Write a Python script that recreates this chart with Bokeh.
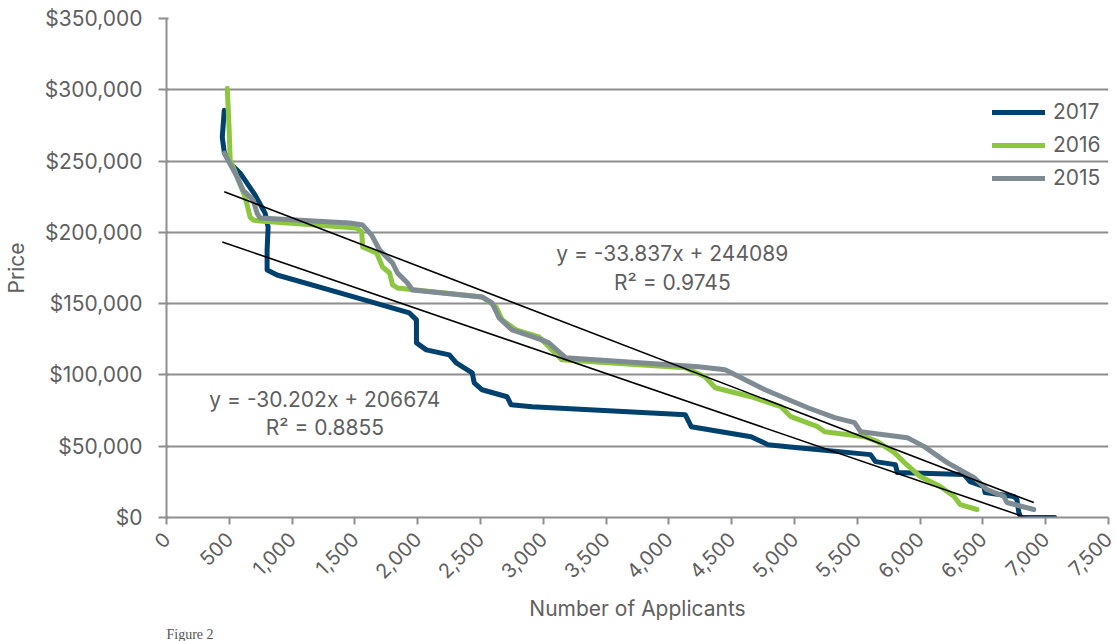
from bokeh.plotting import figure
from bokeh.embed import file_html
from bokeh.resources import INLINE
from bokeh.models import (Legend, LegendItem, Label, FixedTicker,
                          NumeralTickFormatter, Title)
from math import pi

# ---------------- data ----------------
x_2017 = [460, 444, 460, 507, 587, 706, 785, 809, 801, 801, 880, 1380, 1934,
          1990, 1990, 2069, 2252, 2307, 2434, 2450, 2513, 2711, 2743, 2910,
          4130, 4178, 4654, 4789, 5026, 5605, 5645, 5803, 5819, 6350, 6398,
          6509, 6517, 6747, 6771, 6786, 6802, 7072]
y_2017 = [285600, 266700, 256200, 248500, 241500, 226100, 213500, 203700,
          187600, 173600, 170100, 157500, 143500, 138600, 122500, 117600,
          114100, 108500, 101500, 94500, 89600, 84700, 79100, 77700, 72100,
          63700, 56700, 51100, 49000, 44100, 39200, 37100, 31500, 30100,
          25200, 21700, 17500, 14700, 12600, 3500, 0, 0]

x_2016 = [484, 499, 507, 531, 626, 666, 690, 745, 1514, 1554, 1562, 1673,
          1720, 1776, 1800, 1839, 2513, 2624, 2672, 2783, 2965, 3068, 3147,
          4130, 4289, 4368, 4654, 4892, 4971, 5185, 5240, 5558, 5661, 5795,
          5875, 6002, 6160, 6271, 6319, 6453]
y_2016 = [301000, 271600, 250600, 245700, 224700, 210700, 208600, 207900,
          203000, 200200, 189700, 185500, 175700, 171500, 163100, 161000,
          154700, 147700, 138600, 131600, 126700, 117600, 110600, 105000,
          98700, 91000, 84700, 77700, 70700, 63700, 60200, 56700, 53200,
          45500, 38500, 28700, 21700, 14700, 9100, 5600]

x_2015 = [460, 563, 610, 690, 721, 745, 1459, 1562, 1633, 1697, 1800, 1839,
          1919, 1958, 2513, 2592, 2648, 2751, 2989, 3044, 3179, 4234, 4448,
          4654, 4765, 5106, 5320, 5478, 5526, 5898, 6033, 6216, 6430, 6533,
          6668, 6691, 6905]
y_2015 = [255500, 238700, 229600, 222600, 213500, 210000, 206500, 205100,
          198100, 187600, 178500, 171500, 164500, 159600, 154700, 150500,
          140000, 131600, 124600, 122500, 112000, 105700, 103600, 94500,
          89600, 77000, 70000, 66500, 60200, 56000, 49700, 38500, 28000,
          19600, 14700, 10500, 5600]

# trendlines (from the equations shown on the chart)
trend_2015_slope, trend_2015_intercept = -33.837, 244089
trend_2017_slope, trend_2017_intercept = -30.202, 206674
trend_2015_text = ["y = -33.837x + 244089", "R\u00b2 = 0.9745"]
trend_2017_text = ["y = -30.202x + 206674", "R\u00b2 = 0.8855"]

x_ticks = list(range(0, 7501, 500))
y_ticks = list(range(0, 350001, 50000))

series_names = ["2017", "2016", "2015"]
colors = {"2017": "#00416e", "2016": "#8dc63f", "2015": "#7f8b92"}
caption = "Figure 2"

# ---------------- figure ----------------
FONT = "Inter"
FS = "21px"
TXT = "#5f5f5f"
GRID = "#8e8e8e"

p = figure(width=1117, height=641, output_backend="svg", toolbar_location=None,
           x_range=(0, 7500), y_range=(0, 350000),
           min_border_left=166, min_border_right=9, min_border_top=18,
           min_border_bottom=123)
p.outline_line_color = None
p.background_fill_color = "white"

# axes
p.xaxis.ticker = FixedTicker(ticks=x_ticks)
p.yaxis.ticker = FixedTicker(ticks=y_ticks)
p.xaxis.formatter = NumeralTickFormatter(format="0,0")
p.yaxis.formatter = NumeralTickFormatter(format="$0,0")
p.xaxis.major_label_orientation = pi / 4
for ax in (p.xaxis, p.yaxis):
    ax.axis_line_color = GRID
    ax.axis_line_width = 2
    ax.major_tick_line_color = GRID
    ax.major_tick_line_width = 2
    ax.minor_tick_line_color = None
    ax.major_label_text_font = FONT
    ax.major_label_text_font_size = FS
    ax.major_label_text_color = TXT
    ax.axis_label_text_font = FONT
    ax.axis_label_text_font_size = FS
    ax.axis_label_text_color = TXT
    ax.axis_label_text_font_style = "normal"
p.xaxis.major_label_text_font_size = "20px"
p.xaxis.major_tick_out = 7
p.xaxis.major_tick_in = 0
p.yaxis.major_tick_out = 8
p.yaxis.major_tick_in = 2
p.xaxis.major_label_standoff = 11
p.yaxis.major_label_standoff = 16
p.xaxis.axis_label = "Number of Applicants"
p.yaxis.axis_label = "Price"
p.xaxis.axis_label_standoff = 8
p.yaxis.axis_label_standoff = 13

p.xgrid.grid_line_color = None
p.ygrid.grid_line_color = GRID
p.ygrid.grid_line_width = 2

# series
r17 = p.line(x_2017, y_2017, line_color=colors["2017"], line_width=5,
             line_join="round", line_cap="round")
r16 = p.line(x_2016, y_2016, line_color=colors["2016"], line_width=5,
             line_join="round", line_cap="round")
r15 = p.line(x_2015, y_2015, line_color=colors["2015"], line_width=5,
             line_join="round", line_cap="round")

# trendlines
tx15 = [min(x_2015), max(x_2015)]
ty15 = [trend_2015_slope * v + trend_2015_intercept for v in tx15]
tx17 = [min(x_2017), max(x_2017)]
ty17 = [trend_2017_slope * v + trend_2017_intercept for v in tx17]
p.line(tx15, ty15, line_color="black", line_width=1.6)
p.line(tx17, ty17, line_color="black", line_width=1.6)

# trendline equations
for (lx, ly, txt) in [(4027, 185500, trend_2015_text[0]),
                      (4027, 164500, trend_2015_text[1]),
                      (1261, 82600, trend_2017_text[0]),
                      (1261, 63000, trend_2017_text[1])]:
    p.add_layout(Label(x=lx, y=ly, text=txt, text_align="center",
                       text_baseline="middle", text_font=FONT,
                       text_font_size=FS, text_color=TXT))

# legend
legend = Legend(items=[LegendItem(label="2017", renderers=[r17]),
                       LegendItem(label="2016", renderers=[r16]),
                       LegendItem(label="2015", renderers=[r15])],
                location=(826, 327), orientation="vertical",
                border_line_color=None, background_fill_alpha=0,
                padding=0, margin=0, spacing=8,
                glyph_width=53, glyph_height=20, label_height=20,
                label_standoff=8, label_text_font=FONT,
                label_text_font_size=FS, label_text_color=TXT)
p.add_layout(legend)

# caption at the bottom of the page
p.add_layout(Title(text=caption, align="left", standoff=0,
                   text_font="Liberation Serif", text_font_size="14px",
                   text_font_style="normal", text_color="#555555"), "below")

open("out.html", "w").write(file_html(p, INLINE))
